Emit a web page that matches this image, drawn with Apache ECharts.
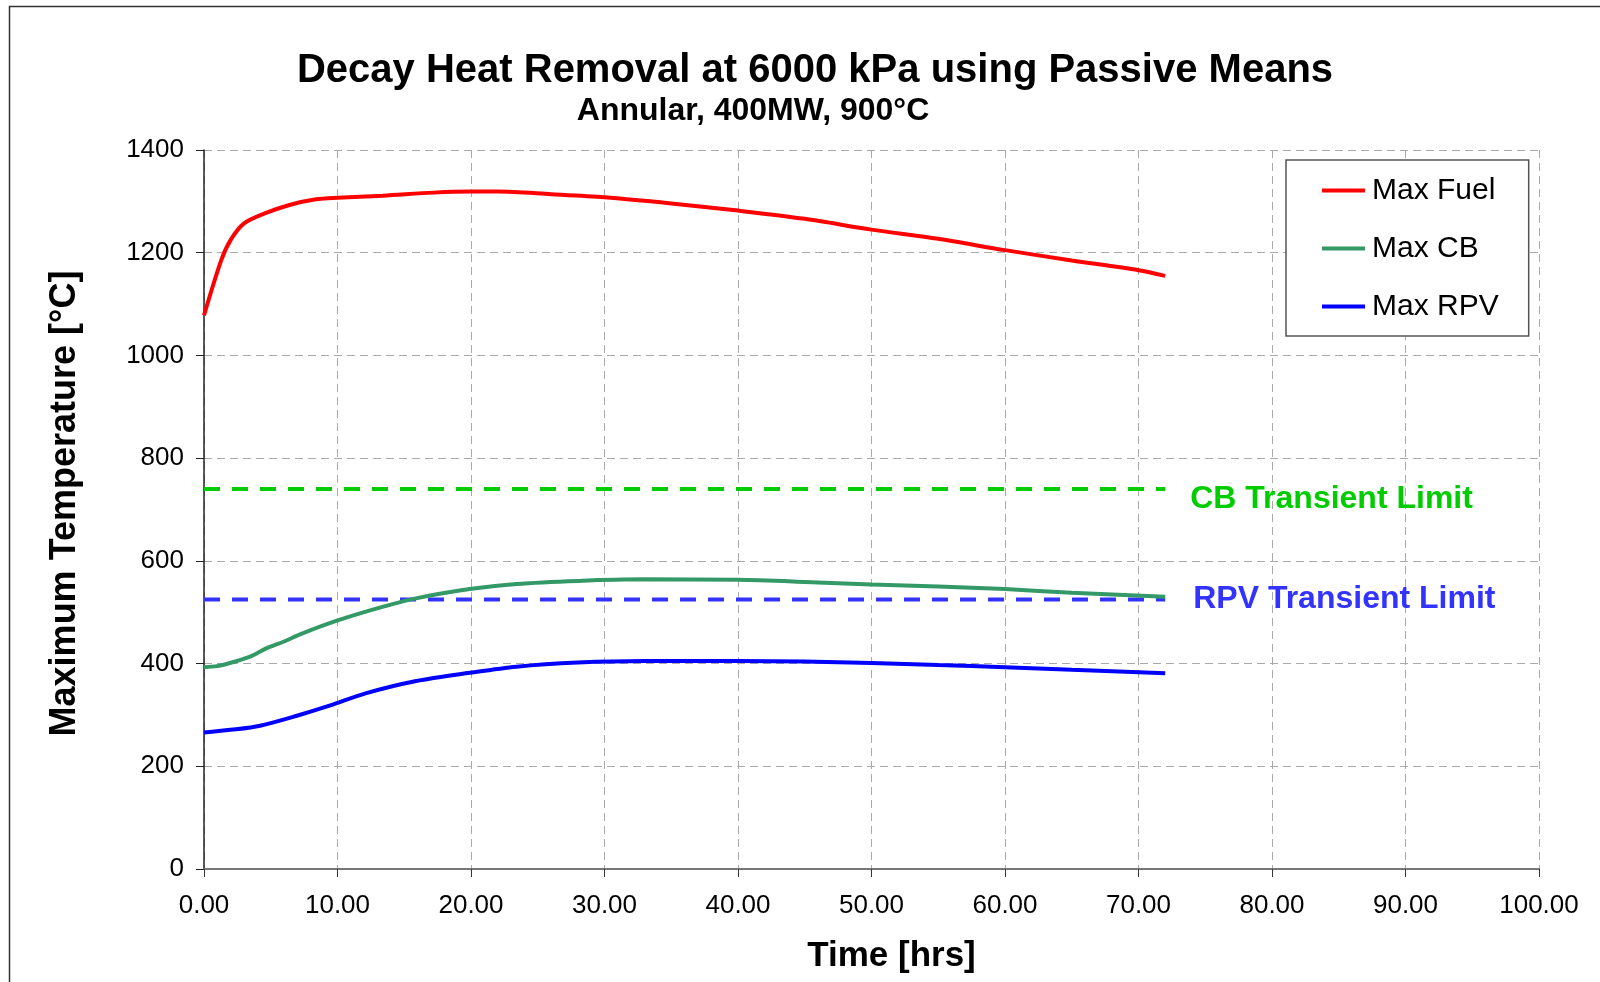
<!DOCTYPE html>
<html>
<head>
<meta charset="utf-8">
<script src="https://cdn.jsdelivr.net/npm/echarts@6/dist/echarts.min.js"></script>
<style>
  html, body { margin: 0; padding: 0; background: #fff; }
  #chart { width: 1600px; height: 982px; }
</style>
</head>
<body>
<div id="chart"></div>
<script>
// time (hrs) and temperature (°C)
var fuelT = [0, 1.3, 2, 3, 4.5, 6.4, 8.4, 10, 13.4, 17.2, 20, 22, 26, 30, 35, 40, 45, 50, 55, 60, 65, 70, 72];
var fuelV = [1078, 1186, 1225, 1257, 1276, 1293, 1304, 1307, 1311, 1317, 1319, 1319, 1314, 1308, 1296, 1282, 1266, 1245, 1227, 1205, 1185, 1166, 1155];

var cbT = [0, 1, 2.2, 3.5, 4.7, 6, 7.2, 9.9, 12.9, 15.7, 19.9, 23.4, 28, 33, 40, 45, 50, 55, 60, 65, 72];
var cbV = [393, 395, 403, 414, 430, 443, 457, 483, 507, 526, 545, 555, 561, 564, 563, 559, 554, 550, 545, 538, 530];

var rpvT = [0, 2.4, 4.2, 6.9, 9.4, 12.1, 15.9, 19.9, 23.4, 28, 33, 40, 45, 50, 55, 60, 65, 72];
var rpvV = [266, 272, 279, 298, 318, 342, 366, 382, 394, 402, 405, 405, 404, 401, 397, 393, 388, 381];

// transient limits
var limitT = [0, 72];
var cbLimit = 740;
var rpvLimit = 525;

var xTicks = [0, 10, 20, 30, 40, 50, 60, 70, 80, 90, 100];

function pairs(t, v) {
    var out = [];
    for (var i = 0; i < t.length; i++) {
        out.push([t[i], v[i]]);
    }
    return out;
}

function flat(t, v) {
    var out = [];
    for (var i = 0; i < t.length; i++) {
        out.push([t[i], v]);
    }
    return out;
}

var FONT = '"Liberation Sans", Arial, sans-serif';

var chart = echarts.init(document.getElementById('chart'));
var option = {
    animation: false,
    backgroundColor: '#fff',
    textStyle: { fontFamily: FONT },
    title: [{
        text: 'Decay Heat Removal at 6000 kPa using Passive Means',
        left: 810, top: 46, textAlign: 'center',
        textStyle: { fontFamily: FONT, fontSize: 40, fontWeight: 'bold', color: '#000' }
    }, {
        text: 'Annular, 400MW, 900°C',
        left: 748, top: 90, textAlign: 'center',
        textStyle: { fontFamily: FONT, fontSize: 32, fontWeight: 'bold', color: '#000' }
    }],
    graphic: [{
        type: 'rect',
        shape: { x: 9.5, y: 6.5, width: 1700, height: 1100 },
        style: { fill: 'none', stroke: '#333', lineWidth: 1.5 },
        silent: true
    }],
    legend: {
        data: ['Max Fuel', 'Max CB', 'Max RPV'],
        orient: 'vertical',
        left: 1286, top: 160,
        padding: [15, 30, 14, 36],
        backgroundColor: '#fff',
        borderColor: '#555', borderWidth: 1.5, borderRadius: 0,
        icon: 'rect',
        itemWidth: 43, itemHeight: 4,
        itemGap: 27,
        textStyle: { fontFamily: FONT, fontSize: 30, color: '#000', lineHeight: 31, padding: [0, 0, 0, 2] }
    },
    grid: { left: 204, right: 61, top: 150, bottom: 113 },
    xAxis: {
        type: 'value', min: 0, max: 100, interval: 10,
        name: 'Time [hrs]', nameLocation: 'middle', nameGap: 70,
        nameTextStyle: { fontFamily: FONT, fontSize: 35, fontWeight: 'bold', color: '#000', padding: [0, 0, 0, 40] },
        axisLine: { show: true, lineStyle: { color: '#777', width: 2 } },
        axisTick: { show: true, length: 8, lineStyle: { color: '#333' } },
        axisLabel: {
            fontFamily: FONT, fontSize: 26, color: '#000', margin: 24,
            formatter: function (v) { return xTicks.indexOf(v) >= 0 ? v.toFixed(2) : ''; }
        },
        splitLine: { show: true, lineStyle: { color: '#aaa', type: [8, 5], width: 1 } }
    },
    yAxis: {
        type: 'value', min: 0, max: 1400, interval: 200,
        name: 'Maximum Temperature [°C]', nameLocation: 'middle', nameGap: 121,
        nameTextStyle: { fontFamily: FONT, fontSize: 36, fontWeight: 'bold', color: '#000', padding: [0, 0, 0, 12] },
        axisLine: { show: true, lineStyle: { color: '#222', width: 1.5 } },
        axisTick: { show: true, length: 8, lineStyle: { color: '#222' } },
        axisLabel: {
            fontFamily: FONT, fontSize: 26, color: '#000', margin: 20,
            formatter: function (v) { return String(v); }
        },
        splitLine: { show: true, lineStyle: { color: '#aaa', type: [8, 5], width: 1 } }
    },
    series: [{
        name: 'CB Transient Limit',
        type: 'line', data: flat(limitT, cbLimit), symbol: 'none', silent: true,
        color: '#00cc00',
        lineStyle: { color: '#00cc00', width: 4, type: [16, 12] },
        endLabel: {
            show: true, formatter: 'CB Transient Limit', distance: 25, offset: [0, 10],
            fontFamily: FONT, fontSize: 32, fontWeight: 'bold', color: '#00cc00'
        }
    }, {
        name: 'RPV Transient Limit',
        type: 'line', data: flat(limitT, rpvLimit), symbol: 'none', silent: true,
        color: '#3333ff',
        lineStyle: { color: '#3333ff', width: 4, type: [16, 12] },
        endLabel: {
            show: true, formatter: 'RPV Transient Limit', distance: 28, offset: [0, 0],
            fontFamily: FONT, fontSize: 32, fontWeight: 'bold', color: '#3333ff'
        }
    }, {
        name: 'Max Fuel',
        type: 'line', data: pairs(fuelT, fuelV), symbol: 'none',
        smooth: 0.3,
        color: '#ff0000',
        lineStyle: { color: '#ff0000', width: 4 }
    }, {
        name: 'Max CB',
        type: 'line', data: pairs(cbT, cbV), symbol: 'none',
        smooth: 0.3,
        color: '#339966',
        lineStyle: { color: '#339966', width: 4 }
    }, {
        name: 'Max RPV',
        type: 'line', data: pairs(rpvT, rpvV), symbol: 'none',
        smooth: 0.3,
        color: '#0000ff',
        lineStyle: { color: '#0000ff', width: 4 }
    }]
};
chart.setOption(option);
</script>
</body>
</html>
